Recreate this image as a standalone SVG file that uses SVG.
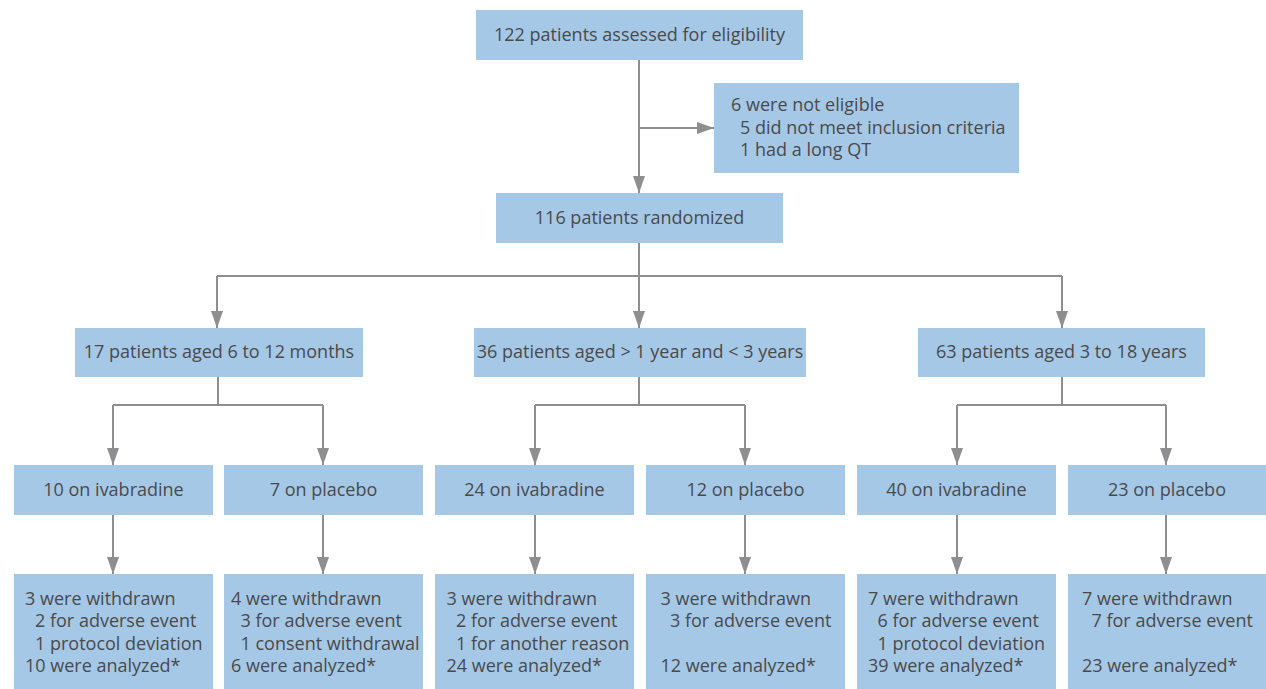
<svg xmlns="http://www.w3.org/2000/svg" width="1266" height="689" viewBox="0 0 1266 689">
<style>
.box{fill:#a5c8e6}
text{font-family:"Open Sans","Noto Sans","Liberation Sans",sans-serif;font-size:18px;fill:#4a4a4c}
.c{text-anchor:middle}
.ln{fill:none;stroke:#8e8e90;stroke-width:2}
</style>
<defs>
<marker id="ah" markerUnits="userSpaceOnUse" markerWidth="17" markerHeight="12" refX="17" refY="6" orient="auto">
<path d="M0,0 L17,6 L0,12 z" fill="#8e8e90"/>
</marker>
</defs>
<rect width="1266" height="689" fill="#ffffff"/>
<g id="connectors">
<path class="ln" d="M639,60 V193" marker-end="url(#ah)"/>
<path class="ln" d="M639,128 H714" marker-end="url(#ah)"/>
<path class="ln" d="M639,243 V276 M217,276 H1062"/>
<path class="ln" d="M217,276 V328" marker-end="url(#ah)"/>
<path class="ln" d="M639,276 V328" marker-end="url(#ah)"/>
<path class="ln" d="M1062,276 V328" marker-end="url(#ah)"/>
<path class="ln" d="M218,377 V405 M113,405 H323"/>
<path class="ln" d="M113,405 V465" marker-end="url(#ah)"/>
<path class="ln" d="M323,405 V465" marker-end="url(#ah)"/>
<path class="ln" d="M639,377 V405 M535,405 H745"/>
<path class="ln" d="M535,405 V465" marker-end="url(#ah)"/>
<path class="ln" d="M745,405 V465" marker-end="url(#ah)"/>
<path class="ln" d="M1062,377 V405 M957,405 H1166"/>
<path class="ln" d="M957,405 V465" marker-end="url(#ah)"/>
<path class="ln" d="M1166,405 V465" marker-end="url(#ah)"/>
<path class="ln" d="M113,515 V574" marker-end="url(#ah)"/>
<path class="ln" d="M323,515 V574" marker-end="url(#ah)"/>
<path class="ln" d="M535,515 V574" marker-end="url(#ah)"/>
<path class="ln" d="M745,515 V574" marker-end="url(#ah)"/>
<path class="ln" d="M957,515 V574" marker-end="url(#ah)"/>
<path class="ln" d="M1166,515 V574" marker-end="url(#ah)"/>
</g>
<g id="assessed"><rect class="box" x="476" y="10" width="327" height="50"/><text class="c" x="639.5" y="41">122 patients assessed for eligibility</text></g>
<g id="excluded"><rect class="box" x="714" y="83" width="305" height="90"/>
<text x="731" y="111">6 were not eligible</text>
<text x="740" y="134">5 did not meet inclusion criteria</text>
<text x="740" y="156">1 had a long QT</text></g>
<g id="randomized"><rect class="box" x="496" y="193" width="287" height="50"/><text class="c" x="639.5" y="224">116 patients randomized</text></g>
<g id="age1"><rect class="box" x="75" y="328" width="288" height="49"/><text class="c" x="219" y="358">17 patients aged 6 to 12 months</text></g>
<g id="age2"><rect class="box" x="474" y="328" width="332" height="49"/><text class="c" x="640" y="358">36 patients aged &gt; 1 year and &lt; 3 years</text></g>
<g id="age3"><rect class="box" x="918" y="328" width="287" height="49"/><text class="c" x="1061.5" y="358">63 patients aged 3 to 18 years</text></g>
<g id="t1"><rect class="box" x="14" y="465" width="199" height="50"/><text class="c" x="113.5" y="496">10 on ivabradine</text></g>
<g id="t2"><rect class="box" x="224" y="465" width="199" height="50"/><text class="c" x="323.5" y="496">7 on placebo</text></g>
<g id="t3"><rect class="box" x="435" y="465" width="199" height="50"/><text class="c" x="534.5" y="496">24 on ivabradine</text></g>
<g id="t4"><rect class="box" x="646" y="465" width="199" height="50"/><text class="c" x="745.5" y="496">12 on placebo</text></g>
<g id="t5"><rect class="box" x="857" y="465" width="199" height="50"/><text class="c" x="956.5" y="496">40 on ivabradine</text></g>
<g id="t6"><rect class="box" x="1068" y="465" width="198" height="50"/><text class="c" x="1167" y="496">23 on placebo</text></g>
<g id="o1"><rect class="box" x="14" y="574" width="199" height="115"/>
<text x="25" y="605">3 were withdrawn</text><text x="35" y="627">2 for adverse event</text><text x="35" y="649.5">1 protocol deviation</text><text x="25" y="672">10 were analyzed*</text></g>
<g id="o2"><rect class="box" x="224" y="574" width="199" height="115"/>
<text x="231" y="605">4 were withdrawn</text><text x="240.5" y="627">3 for adverse event</text><text x="240.5" y="649.5">1 consent withdrawal</text><text x="231" y="672">6 were analyzed*</text></g>
<g id="o3"><rect class="box" x="435" y="574" width="199" height="115"/>
<text x="446.5" y="605">3 were withdrawn</text><text x="456" y="627">2 for adverse event</text><text x="456" y="649.5">1 for another reason</text><text x="446.5" y="672">24 were analyzed*</text></g>
<g id="o4"><rect class="box" x="646" y="574" width="199" height="115"/>
<text x="660.5" y="605">3 were withdrawn</text><text x="670" y="627">3 for adverse event</text><text x="660.5" y="672">12 were analyzed*</text></g>
<g id="o5"><rect class="box" x="857" y="574" width="199" height="115"/>
<text x="868" y="605">7 were withdrawn</text><text x="877.5" y="627">6 for adverse event</text><text x="877.5" y="649.5">1 protocol deviation</text><text x="868" y="672">39 were analyzed*</text></g>
<g id="o6"><rect class="box" x="1068" y="574" width="198" height="115"/>
<text x="1082" y="605">7 were withdrawn</text><text x="1091.5" y="627">7 for adverse event</text><text x="1082" y="672">23 were analyzed*</text></g>
</svg>
